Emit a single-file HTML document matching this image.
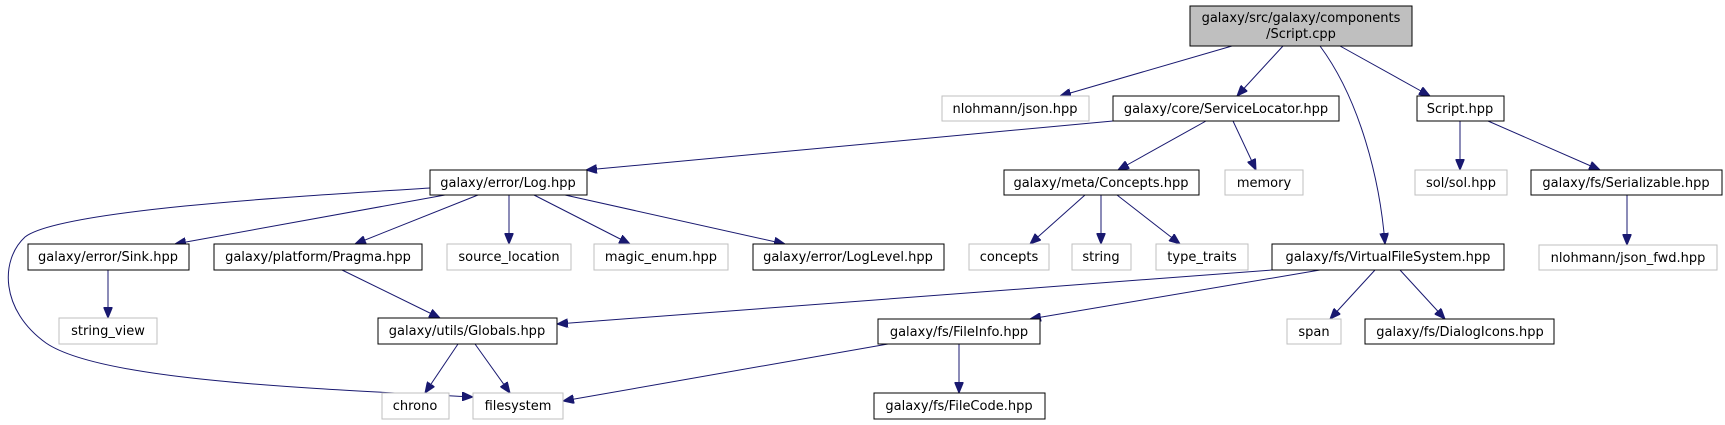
<!DOCTYPE html>
<html><head><meta charset="utf-8"><style>
html,body{margin:0;padding:0;background:#fff;}
svg{display:block;}
text{font-family:"DejaVu Sans","Liberation Sans",sans-serif;font-size:13px;fill:#000;text-anchor:middle;}
.b{fill:#fff;stroke:#000;stroke-width:1;}
.g{fill:#fff;stroke:#bfbfbf;stroke-width:1;}
.e{fill:none;stroke:#191970;stroke-width:1;marker-end:url(#a);}
</style></head><body>
<svg width="1725" height="425" viewBox="0 0 1725 425" xmlns="http://www.w3.org/2000/svg">
<defs><marker id="a" viewBox="0 0 11 9" refX="11" refY="4.5" markerWidth="11" markerHeight="9" markerUnits="userSpaceOnUse" orient="auto"><path d="M0,0 L11,4.5 L0,9 z" fill="#191970" stroke="#191970"/></marker></defs>

<!-- edges -->
<path class="e" d="M1232,46 L1060,96"/>
<path class="e" d="M1283,46 L1237,96"/>
<path class="e" d="M1320,46 C1360,100 1380,180 1385,244"/>
<path class="e" d="M1340,46 L1430,96"/>
<path class="e" d="M1113,121 L586,170"/>
<path class="e" d="M1206,121 L1118,170"/>
<path class="e" d="M1233,121 L1256,170"/>
<path class="e" d="M1460,121 L1460,170"/>
<path class="e" d="M1488,121 L1600,170"/>
<path class="e" d="M1627,195 L1627,245"/>
<path class="e" d="M445,195 L175,244"/>
<path class="e" d="M478,195 L355,244"/>
<path class="e" d="M509,195 L509,244"/>
<path class="e" d="M534,195 L630,244"/>
<path class="e" d="M565,195 L785,244"/>
<path class="e" d="M430,188 C300,196 60,210 25,237 C0,260 0,310 46,343 C100,380 300,388 473,397"/>
<path class="e" d="M1085,195 L1030,244"/>
<path class="e" d="M1101,195 L1101,244"/>
<path class="e" d="M1117,195 L1180,244"/>
<path class="e" d="M108,270 L108,318"/>
<path class="e" d="M342,270 L440,318"/>
<path class="e" d="M458,344 L425,393"/>
<path class="e" d="M475,344 L510,393"/>
<path class="e" d="M1272,270 L557,324"/>
<path class="e" d="M1320,270 L1030,319"/>
<path class="e" d="M1375,270 L1330,319"/>
<path class="e" d="M1400,270 L1445,319"/>
<path class="e" d="M888,344 L563,401"/>
<path class="e" d="M959,344 L959,393"/>

<!-- nodes -->
<rect x="1190" y="6" width="222" height="40" fill="#bfbfbf" stroke="#000"/>
<text x="1301" y="22">galaxy/src/galaxy/components</text>
<text x="1301" y="38">/Script.cpp</text>

<rect class="g" x="942" y="96" width="147" height="25"/><text x="1015" y="113">nlohmann/json.hpp</text>
<rect class="b" x="1113" y="96" width="226" height="25"/><text x="1226" y="113">galaxy/core/ServiceLocator.hpp</text>
<rect class="b" x="1417" y="96" width="87" height="25"/><text x="1460" y="113">Script.hpp</text>

<rect class="b" x="430" y="170" width="157" height="25"/><text x="508" y="187">galaxy/error/Log.hpp</text>
<rect class="b" x="1004" y="170" width="195" height="25"/><text x="1101" y="187">galaxy/meta/Concepts.hpp</text>
<rect class="g" x="1225" y="170" width="78" height="25"/><text x="1264" y="187">memory</text>
<rect class="g" x="1415" y="170" width="92" height="25"/><text x="1461" y="187">sol/sol.hpp</text>
<rect class="b" x="1531" y="170" width="191" height="25"/><text x="1626" y="187">galaxy/fs/Serializable.hpp</text>

<rect class="b" x="28" y="244" width="161" height="26"/><text x="108" y="261">galaxy/error/Sink.hpp</text>
<rect class="b" x="214" y="244" width="208" height="26"/><text x="318" y="261">galaxy/platform/Pragma.hpp</text>
<rect class="g" x="447" y="244" width="124" height="26"/><text x="509" y="261">source_location</text>
<rect class="g" x="594" y="244" width="134" height="26"/><text x="661" y="261">magic_enum.hpp</text>
<rect class="b" x="753" y="244" width="191" height="26"/><text x="848" y="261">galaxy/error/LogLevel.hpp</text>
<rect class="g" x="969" y="244" width="80" height="26"/><text x="1009" y="261">concepts</text>
<rect class="g" x="1072" y="244" width="59" height="26"/><text x="1101" y="261">string</text>
<rect class="g" x="1156" y="244" width="92" height="26"/><text x="1202" y="261">type_traits</text>
<rect class="b" x="1272" y="244" width="232" height="26"/><text x="1388" y="261">galaxy/fs/VirtualFileSystem.hpp</text>
<rect class="g" x="1539" y="245" width="178" height="25"/><text x="1628" y="262">nlohmann/json_fwd.hpp</text>

<rect class="g" x="59" y="318" width="98" height="26"/><text x="108" y="335">string_view</text>
<rect class="b" x="378" y="318" width="179" height="26"/><text x="467" y="335">galaxy/utils/Globals.hpp</text>
<rect class="b" x="878" y="319" width="162" height="25"/><text x="959" y="336">galaxy/fs/FileInfo.hpp</text>
<rect class="g" x="1287" y="319" width="54" height="25"/><text x="1314" y="336">span</text>
<rect class="b" x="1365" y="319" width="189" height="25"/><text x="1460" y="336">galaxy/fs/DialogIcons.hpp</text>

<rect class="g" x="382" y="393" width="67" height="26"/><text x="415" y="410">chrono</text>
<rect class="g" x="473" y="393" width="90" height="26"/><text x="518" y="410">filesystem</text>
<rect class="b" x="874" y="393" width="171" height="26"/><text x="959" y="410">galaxy/fs/FileCode.hpp</text>
</svg>
</body></html>
